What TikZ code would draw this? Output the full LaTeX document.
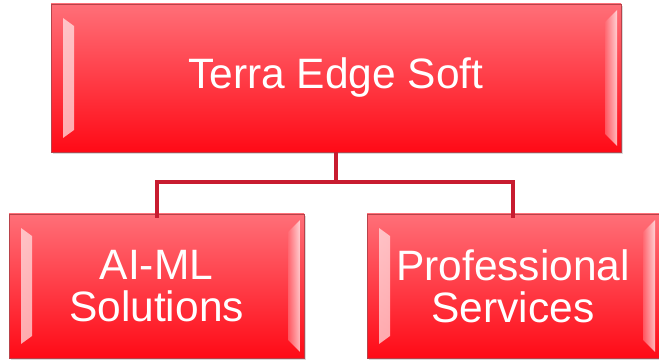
\documentclass[tikz,border=0pt]{standalone}
\usepackage{fontspec}
\setmainfont{Liberation Sans}
\usepackage{tikz}
\usetikzlibrary{shadows}
\definecolor{boxtop}{HTML}{FF6F78}
\definecolor{boxbot}{HTML}{FF0A16}
\definecolor{boxedge}{HTML}{B8424A}
\definecolor{linkred}{HTML}{C81C30}
\tikzset{unit/.style={rectangle,draw=boxedge,line width=0.8pt,top color=boxtop,bottom color=boxbot,
    text=white,align=center,font=\fontsize{42.5}{42}\selectfont,inner sep=0pt,
    drop shadow={shadow xshift=1.5pt,shadow yshift=-2pt,opacity=0.3},
    path picture={
        \shade[left color=white!90!boxtop,right color=boxtop,opacity=0.7]
            ([xshift=12pt,yshift=-14pt]path picture bounding box.north west) --
            ([xshift=23pt,yshift=-22pt]path picture bounding box.north west) --
            ([xshift=23pt,yshift=22pt]path picture bounding box.south west) --
            ([xshift=12pt,yshift=14pt]path picture bounding box.south west) -- cycle;
        \shade[left color=boxtop,right color=white,opacity=0.7]
            ([xshift=-16pt,yshift=-18pt]path picture bounding box.north east) --
            ([xshift=-4pt,yshift=-6pt]path picture bounding box.north east) --
            ([xshift=-4pt,yshift=6pt]path picture bounding box.south east) --
            ([xshift=-16pt,yshift=18pt]path picture bounding box.south east) -- cycle;
    }},
    link/.style={draw=linkred,line width=4pt}}

\begin{document}
\begin{tikzpicture}[x=1pt,y=-1pt]
        \useasboundingbox (0,0) rectangle (659,363);

        \draw[link] (336,140) -- (336,182) coordinate (split);
        \node[unit,minimum width=570pt,minimum height=148pt] (soft)at (336,78) {Terra Edge Soft};
        \node[unit,minimum width=295pt,minimum height=144pt] (aiml)at (156.5,286) {AI-ML\\Solutions};
        \node[unit,minimum width=292pt,minimum height=144pt] (serv)at (513,286) {Professional\\Services};

        \draw [link] (soft.south) -- (split);
        \draw [link] (split) -| ([yshift=-4pt]aiml.north);
        \draw [link] (split) -| ([yshift=-4pt]serv.north);
    \end{tikzpicture}
\end{document}
